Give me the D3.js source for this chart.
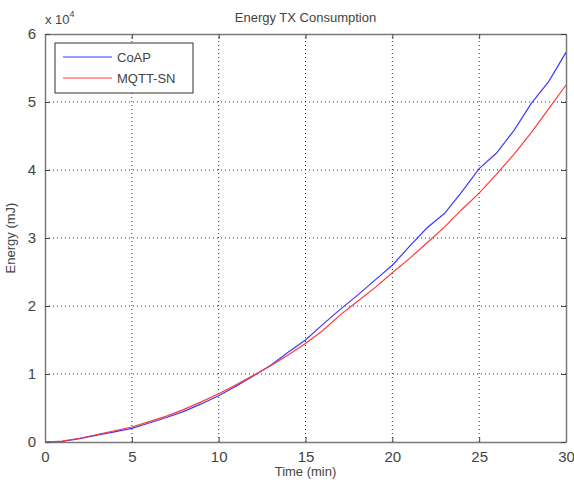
<!DOCTYPE html>
<html>
<head>
<meta charset="utf-8">
<script src="https://cdn.jsdelivr.net/npm/d3@7"></script>
<style>
  body { margin: 0; background: #fff; }
  svg { font-family: "Liberation Sans", Arial, sans-serif; }
</style>
</head>
<body>
<div id="chart"></div>
<script>
// Temps (min) et énergie (x 10^4 mJ)
const temps = d3.range(0, 31);
const coap = [0, 0.01, 0.05, 0.10, 0.15, 0.20, 0.28, 0.36, 0.45, 0.56, 0.68, 0.82, 0.97, 1.13, 1.32, 1.50,
  1.73, 1.95, 2.16, 2.38, 2.60, 2.88, 3.15, 3.36, 3.68, 4.02, 4.25, 4.58, 4.98, 5.30, 5.73];
const mqtt = [0, 0.015, 0.055, 0.11, 0.165, 0.22, 0.30, 0.38, 0.48, 0.59, 0.71, 0.84, 0.98, 1.12, 1.28, 1.45,
  1.64, 1.87, 2.07, 2.27, 2.49, 2.70, 2.93, 3.16, 3.42, 3.66, 3.94, 4.23, 4.55, 4.90, 5.25];
const xTicks = [0, 5, 10, 15, 20, 25, 30];
const yTicks = [0, 1, 2, 3, 4, 5, 6];
const series = [
  { nom: "CoAP", valeurs: coap, couleur: "#3a3aff" },
  { nom: "MQTT-SN", valeurs: mqtt, couleur: "#ff3a3a" }
];

const width = 574, height = 483;
const m = { left: 45, right: 8, top: 34, bottom: 41 };
const grisAxe = "#7a7a7a", grisTexte = "#444";

const svg = d3.select("#chart").append("svg")
  .attr("width", width)
  .attr("height", height);

const x = d3.scaleLinear().domain([0, 30]).range([m.left, width - m.right]);
const y = d3.scaleLinear().domain([0, 6]).range([height - m.bottom, m.top]);

// Grille pointillée
svg.append("g").selectAll("line")
  .data(xTicks.slice(1, -1))
  .enter().append("line")
  .attr("x1", d => x(d)).attr("x2", d => x(d))
  .attr("y1", y(0)).attr("y2", y(6))
  .attr("stroke", "#333").attr("stroke-width", 1)
  .attr("stroke-dasharray", "1,3");
svg.append("g").selectAll("line")
  .data(yTicks.slice(1, -1))
  .enter().append("line")
  .attr("x1", x(0)).attr("x2", x(30))
  .attr("y1", d => y(d)).attr("y2", d => y(d))
  .attr("stroke", "#333").attr("stroke-width", 1)
  .attr("stroke-dasharray", "1,3");

// Axes (ticks vers l'intérieur, comme MATLAB)
const axeX = svg.append("g")
  .attr("transform", `translate(0,${y(0)})`)
  .call(d3.axisBottom(x).tickValues(xTicks).tickSizeInner(-5).tickSizeOuter(0).tickPadding(9));
const axeXh = svg.append("g")
  .attr("transform", `translate(0,${y(6)})`)
  .call(d3.axisTop(x).tickValues(xTicks).tickSizeInner(-5).tickSizeOuter(0).tickFormat(""));
const axeY = svg.append("g")
  .attr("transform", `translate(${x(0)},0)`)
  .call(d3.axisLeft(y).tickValues(yTicks).tickFormat(d3.format("d"))
    .tickSizeInner(-5).tickSizeOuter(0).tickPadding(9));
const axeYd = svg.append("g")
  .attr("transform", `translate(${x(30)},0)`)
  .call(d3.axisRight(y).tickValues(yTicks).tickSizeInner(-5).tickSizeOuter(0).tickFormat(""));

[axeX, axeXh, axeY, axeYd].forEach(a => {
  a.select(".domain").attr("stroke", grisAxe).attr("stroke-width", 1.5);
  a.selectAll(".tick line").attr("stroke", "#444");
  a.selectAll("text").attr("fill", grisTexte).style("font-size", "15px")
    .style("font-family", "'Liberation Sans', Arial, sans-serif");
});

// Courbes
const ligne = d3.line()
  .x((d, i) => x(temps[i]))
  .y(d => y(d));
svg.append("g").selectAll("path")
  .data(series)
  .enter().append("path")
  .attr("d", d => ligne(d.valeurs))
  .attr("fill", "none")
  .attr("stroke", d => d.couleur)
  .attr("stroke-width", 1.2);

// Titre et libellés
svg.append("text")
  .attr("x", (x(0) + x(30)) / 2).attr("y", 22)
  .attr("text-anchor", "middle")
  .attr("fill", grisTexte).style("font-size", "13px")
  .text("Energy TX Consumption");
svg.append("text")
  .attr("x", (x(0) + x(30)) / 2).attr("y", 476)
  .attr("text-anchor", "middle")
  .attr("fill", grisTexte).style("font-size", "13px")
  .text("Time (min)");
svg.append("text")
  .attr("transform", `translate(15,${(y(0) + y(6)) / 2}) rotate(-90)`)
  .attr("text-anchor", "middle")
  .attr("fill", grisTexte).style("font-size", "13px")
  .text("Energy (mJ)");

// Facteur d'échelle x 10^4
const facteur = svg.append("text")
  .attr("x", 45).attr("y", 24)
  .attr("fill", grisTexte).style("font-size", "13px");
facteur.append("tspan").text("x 10");
facteur.append("tspan").attr("dy", -7).style("font-size", "9px").text("4");

// Légende
const leg = svg.append("g").attr("transform", "translate(55,43)");
leg.append("rect")
  .attr("width", 138).attr("height", 50)
  .attr("fill", "#fff").attr("stroke", "#555").attr("stroke-width", 1.2);
series.forEach((s, i) => {
  const yy = 14 + i * 21;
  leg.append("line")
    .attr("x1", 8).attr("x2", 57).attr("y1", yy).attr("y2", yy)
    .attr("stroke", s.couleur).attr("stroke-width", 1.1);
  leg.append("text")
    .attr("x", 62).attr("y", yy + 5)
    .attr("fill", grisTexte).style("font-size", "13px")
    .text(s.nom);
});
</script>
</body>
</html>
